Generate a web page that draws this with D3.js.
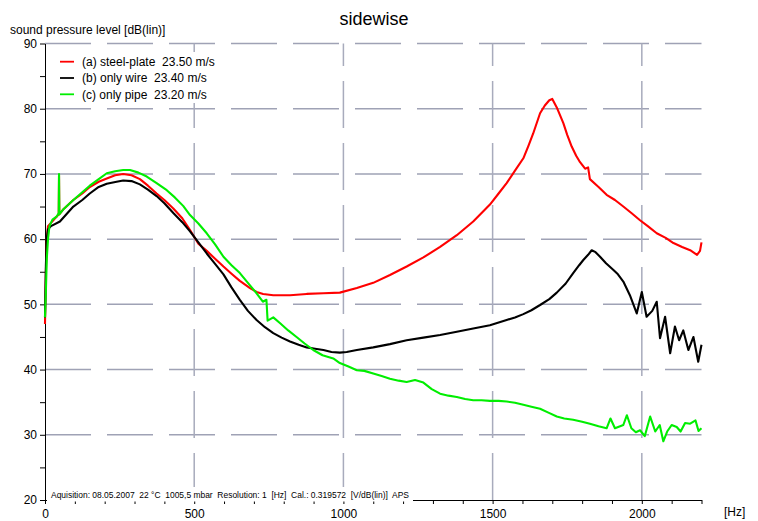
<!DOCTYPE html>
<html>
<head>
<meta charset="utf-8">
<style>
  body { margin: 0; background: #fff; }
  svg { display: block; font-family: Arial, "Liberation Sans", sans-serif; }
</style>
</head>
<body>
<svg width="758" height="521"></svg>

<script src="https://cdn.jsdelivr.net/npm/d3@7"></script>
<script>

// ---- values: [frequency Hz, level dB] ----
var steelPlate = [[0,47],[3,55],[6,60],[10,62],[20,62.5],[40,63.5],[46,63.8],[47,69.8],[48,63.8],[60,64.5],[95,66],[125,67],[150,68],[180,68.8],[207,69.3],
  [235,69.8],[262,70],[290,69.8],[318,69.2],[345,68.2],[374,67],[400,66],[430,64.7],[460,63.2],[486,61.4],[514,59.3],[542,58.2],
  [570,57],[598,55.8],[625,54.7],[653,53.6],[687,52.5],[709,51.9],[731,51.6],[765,51.4],[821,51.4],[877,51.6],[933,51.7],[988,51.8],
  [1045,52.5],[1100,53.3],[1156,54.5],[1212,55.8],[1268,57.2],[1324,58.8],[1380,60.6],[1435,62.7],[1491,65.3],[1520,67],[1547,68.6],
  [1575,70.5],[1603,72.4],[1620,74.3],[1636,76.2],[1659,79.3],[1675,80.5],[1690,81.3],[1700,81.5],[1715,80.2],[1737,77.8],[1750,76],
  [1765,74.2],[1780,72.8],[1793,71.8],[1810,70.8],[1820,71],[1826,69.2],[1855,68],[1882,66.8],[1910,66],[1938,65],[1965,64],[1994,62.9],
  [2020,62],[2050,60.9],[2080,60.2],[2106,59.4],[2135,58.8],[2162,58.3],[2185,57.6],[2195,58.2],[2200,59.5]];

var onlyWire = [[0,48],[3,56],[6,60],[10,61.5],[20,62],[50,62.7],[95,65],[125,66],[150,67],[180,68],[207,68.5],[240,68.8],[262,69],
  [290,68.9],[318,68.4],[345,67.6],[374,66.6],[400,65.5],[430,64],[460,62.6],[486,61.2],[514,59.5],[542,57.8],[570,56.2],[598,54.6],
  [625,52.6],[653,50.7],[680,49],[709,47.6],[737,46.5],[765,45.6],[793,44.9],[821,44.3],[850,43.8],[877,43.4],[905,43.2],[933,43],
  [960,42.7],[988,42.6],[1011,42.7],[1045,43],[1100,43.4],[1156,43.9],[1212,44.5],[1268,44.9],[1324,45.3],[1380,45.8],[1435,46.3],
  [1491,46.8],[1547,47.6],[1575,48],[1603,48.5],[1630,49.1],[1659,49.9],[1690,50.8],[1715,51.8],[1745,53.2],[1770,54.8],[1790,56],
  [1804,56.8],[1820,57.6],[1832,58.3],[1845,58],[1860,57.3],[1880,56.3],[1904,55.3],[1920,54.6],[1938,53.5],[1960,51.4],[1983,48.6],
  [2000,51.9],[2016,48.1],[2035,49],[2050,50.4],[2061,44.8],[2078,48.1],[2095,42.5],[2111,46.6],[2125,44.5],[2139,46],[2156,43],
  [2173,45],[2189,41.2],[2200,43.8]];

var onlyPipe = [[0,48],[3,52],[6,57],[10,60],[15,62],[25,63],[40,63.5],[46,64],[47,70],[48,63.8],[60,64.5],[95,66],[125,67.2],[150,68.2],
  [180,69.2],[207,70.1],[235,70.4],[262,70.6],[285,70.6],[313,70.2],[341,69.6],[374,68.6],[408,67.5],[435,66.4],[463,65.1],[486,63.7],
  [514,62.4],[542,60.9],[570,59.2],[598,57.3],[625,56],[653,54.8],[680,53.3],[709,51.7],[730,50.4],[742,50.7],[746,47.5],[765,48],
  [788,47.1],[815,46],[843,45],[870,44],[899,43],[930,42.2],[966,41.7],[988,41],[1015,40.5],[1045,39.9],[1070,39.8],[1100,39.4],
  [1128,39],[1156,38.6],[1185,38.3],[1212,38.1],[1240,38.4],[1268,38],[1296,37],[1324,36.3],[1352,36],[1380,35.8],[1408,35.5],
  [1435,35.3],[1463,35.3],[1491,35.2],[1520,35.2],[1547,35.1],[1575,34.9],[1603,34.6],[1630,34.3],[1659,34],[1687,33.4],[1715,32.8],
  [1740,32.5],[1770,32.3],[1800,32],[1826,31.7],[1855,31.3],[1882,31],[1895,32.5],[1910,31],[1938,31.5],[1950,33],[1965,31],
  [1980,30.4],[1994,30.7],[2010,29.8],[2028,32.8],[2045,30.5],[2060,31.5],[2072,29],[2085,30.5],[2100,31.5],[2117,31.2],[2130,30.5],
  [2145,31.8],[2162,31.7],[2180,32.2],[2190,30.6],[2200,31]];

var seriesNames = ["(a) steel-plate  23.50 m/s", "(b) only wire  23.40 m/s", "(c) only pipe  23.20 m/s"];
var seriesColors = ["#ff0000", "#000000", "#00ee00"];
var xTicks = [0, 500, 1000, 1500, 2000];
var yTicks = [20, 30, 40, 50, 60, 70, 80, 90];
var infoText = "Aquisition: 08.05.2007  22 °C  1005,5 mbar  Resolution: 1  [Hz]  Cal.: 0.319572  [V/dB(lin)]  APS";

var svg = d3.select("svg");

var x = d3.scaleLinear().domain([0, 2200]).range([45, 701.5]);
var y = d3.scaleLinear().domain([20, 90]).range([500, 43.5]);

// grid: horizontal dashes from the left, vertical dashes from the bottom
svg.append("g").selectAll("line")
    .data(yTicks.slice(1))
    .enter().append("line")
      .attr("x1", x(0)).attr("x2", x(2200))
      .attr("y1", function(d) { return y(d); })
      .attr("y2", function(d) { return y(d); })
      .attr("stroke", "#9fa2b5")
      .attr("stroke-width", 1.5)
      .attr("stroke-dasharray", "46,16");

svg.append("g").selectAll("line")
    .data(xTicks.slice(1))
    .enter().append("line")
      .attr("x1", function(d) { return x(d); })
      .attr("x2", function(d) { return x(d); })
      .attr("y1", y(20)).attr("y2", y(90))
      .attr("stroke", "#a8abbc")
      .attr("stroke-width", 1.5)
      .attr("stroke-dasharray", "47,15");

// axes
var xAxis = svg.append("g")
    .attr("transform", "translate(0," + y(20) + ")")
    .call(d3.axisBottom(x)
      .tickValues(d3.range(0, 2201, 100))
      .tickSize(4).tickSizeOuter(0).tickPadding(5)
      .tickFormat(function(d) { return d % 500 === 0 ? d : ""; }));

var yAxis = svg.append("g")
    .attr("transform", "translate(" + x(0) + ",0)")
    .call(d3.axisLeft(y)
      .tickValues(d3.range(20, 91, 5))
      .tickSize(5).tickSizeOuter(0).tickPadding(3)
      .tickFormat(function(d) { return d % 10 === 0 ? d : ""; }));

[xAxis, yAxis].forEach(function(a) {
  a.selectAll("text").attr("font-size", 12).attr("font-family", "Arial, 'Liberation Sans', sans-serif").attr("fill", "#000");
  a.selectAll("line, path").attr("stroke", "#000");
});

// curves
var line = d3.line()
    .x(function(d) { return x(d[0]); })
    .y(function(d) { return y(d[1]); });

[steelPlate, onlyWire, onlyPipe].forEach(function(s, i) {
  svg.append("path")
      .datum(s)
      .attr("fill", "none")
      .attr("stroke", seriesColors[i])
      .attr("stroke-width", 2.1)
      .attr("stroke-linejoin", "round")
      .attr("d", line);
});

// legend box
var legend = svg.append("g");
legend.append("rect")
    .attr("x", 48).attr("y", 52).attr("width", 172).attr("height", 51)
    .attr("fill", "#fff");
seriesNames.forEach(function(name, i) {
  var ly = 61.7 + i * 16.3;
  legend.append("line")
      .attr("x1", 60).attr("x2", 74).attr("y1", ly).attr("y2", ly)
      .attr("stroke", seriesColors[i]).attr("stroke-width", 1.8);
  legend.append("text")
      .attr("x", 82).attr("y", ly + 4.3)
      .attr("font-size", 12)
      .style("white-space", "pre")
      .text(name);
});

// acquisition info on the bottom axis
svg.append("rect")
    .attr("x", 47).attr("y", 487).attr("width", 366).attr("height", 14.5)
    .attr("fill", "#fff");
svg.append("text")
    .attr("x", 51).attr("y", 497.5)
    .attr("font-size", 9.5)
    .attr("textLength", 358)
    .attr("lengthAdjust", "spacingAndGlyphs")
    .style("white-space", "pre")
    .text(infoText);

// titles
svg.append("text")
    .attr("x", 374).attr("y", 25)
    .attr("text-anchor", "middle")
    .attr("font-size", 18)
    .text("sidewise");

svg.append("text")
    .attr("x", 10).attr("y", 34)
    .attr("font-size", 12)
    .text("sound pressure level [dB(lin)]");

svg.append("text")
    .attr("x", 724).attr("y", 516)
    .attr("font-size", 12)
    .text("[Hz]");

</script>
</body>
</html>
